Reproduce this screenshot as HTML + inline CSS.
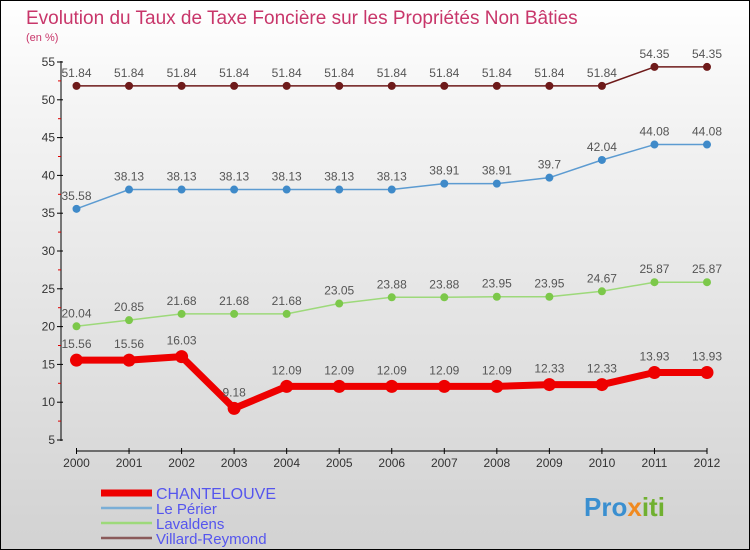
<!DOCTYPE html>
<html><head><meta charset="utf-8"><style>
body{margin:0}
#c{width:748px;height:548px;border:1px solid #000;background:linear-gradient(#ffffff,#f4f4f4 20%,#d2d2d2);position:relative;font-family:"Liberation Sans",sans-serif;overflow:hidden}
</style></head><body>
<div id="c">
<svg id="s" width="748" height="548" xmlns="http://www.w3.org/2000/svg">
<text x="25" y="23" font-size="19" fill="#c8366a">Evolution du Taux de Taxe Foncière sur les Propriétés Non Bâties</text>
<text x="25" y="40" font-size="11" fill="#c8366a">(en %)</text>
<g id="axes"></g><g id="series"></g><g id="legend"></g>
<text x="583" y="515" font-size="26" font-weight="bold" fill="#3a8fd0">Pro<tspan fill="#f08a20">x</tspan><tspan fill="#70b030">iti</tspan></text>
</svg>
</div>
<script>
const years=[2000,2001,2002,2003,2004,2005,2006,2007,2008,2009,2010,2011,2012];
const chantelouve=[15.56,15.56,16.03,9.18,12.09,12.09,12.09,12.09,12.09,12.33,12.33,13.93,13.93];
const lePerier=[35.58,38.13,38.13,38.13,38.13,38.13,38.13,38.91,38.91,39.7,42.04,44.08,44.08];
const lavaldens=[20.04,20.85,21.68,21.68,21.68,23.05,23.88,23.88,23.95,23.95,24.67,25.87,25.87];
const villard=[51.84,51.84,51.84,51.84,51.84,51.84,51.84,51.84,51.84,51.84,51.84,54.35,54.35];
const yTicks=[5,10,15,20,25,30,35,40,45,50,55];
const NS="http://www.w3.org/2000/svg";
function X(i){return 75.5+i*(706-75.5)/(years.length-1);}
function Y(v){return 61+(55-v)*(439-61)/50;}
function mk(p,t,a){const e=document.createElementNS(NS,t);for(const k in a)e.setAttribute(k,a[k]);p.appendChild(e);return e;}
const ax=document.getElementById('axes');
let l=mk(ax,'line',{x1:60,y1:60,x2:60,y2:440,stroke:'#000'});

l=mk(ax,'line',{x1:75,y1:450,x2:706,y2:450,stroke:'#000'});

yTicks.forEach((t,i)=>{const y=Y(t);mk(ax,'line',{x1:56,y1:y,x2:62,y2:y,stroke:'#000'});
if(i<yTicks.length-1)mk(ax,'line',{x1:57,y1:Y(t+2.5),x2:60,y2:Y(t+2.5),stroke:'#d00'});
const tx=mk(ax,'text',{x:54,y:y+4,'font-size':12,fill:'#333','text-anchor':'end'});tx.textContent=t;
});
years.forEach((yr,i)=>{const x=X(i);mk(ax,'line',{x1:x,y1:447,x2:x,y2:453,stroke:'#000'});
const tx=mk(ax,'text',{x:x,y:466,'font-size':12,fill:'#333','text-anchor':'middle'});tx.textContent=yr;
});
const ser=[[villard,'#6e1a1a','#6e1a1a',1.5,4,'villard-reymond'],[lePerier,'#5c9bd1','#3f8ac9',1.5,4,'le-perier'],[lavaldens,'#9dd97a','#7cc84a',1.5,4,'lavaldens'],[chantelouve,'#ee0000','#ee0000',7,6.5,'chantelouve']];
const sg=document.getElementById('series');
ser.forEach(([d,c,pc,w,r,n])=>{const g=mk(sg,'g',{});
const p=mk(g,'polyline',{points:d.map((v,i)=>X(i)+','+Y(v)).join(' '),fill:'none',stroke:c,'stroke-width':w,'stroke-linejoin':'round'});

d.forEach((v,i)=>{const ci=mk(g,'circle',{cx:X(i),cy:Y(v),r:r,fill:pc});
const t=mk(g,'text',{x:X(i),y:Y(v)-(n==='chantelouve'?12:9),'font-size':12,fill:'#555','text-anchor':'middle'});t.textContent=String(v);
});});
const lg=document.getElementById('legend');
[['CHANTELOUVE','#ee0000',7],['Le Périer','#7aaed6',2.5],['Lavaldens','#9dd97a',2.5],['Villard-Reymond','#8a5a5a',2.5]].forEach(([n,c,w],i)=>{const y=492+i*15;
const g=mk(lg,'g',{});
mk(g,'line',{x1:100,y1:y,x2:151,y2:y,stroke:c,'stroke-width':w});
const t=mk(g,'text',{x:155,y:y+6,'font-size':i===0?16:15,fill:'#5555ee'});t.textContent=n;});
</script>
</body></html>
